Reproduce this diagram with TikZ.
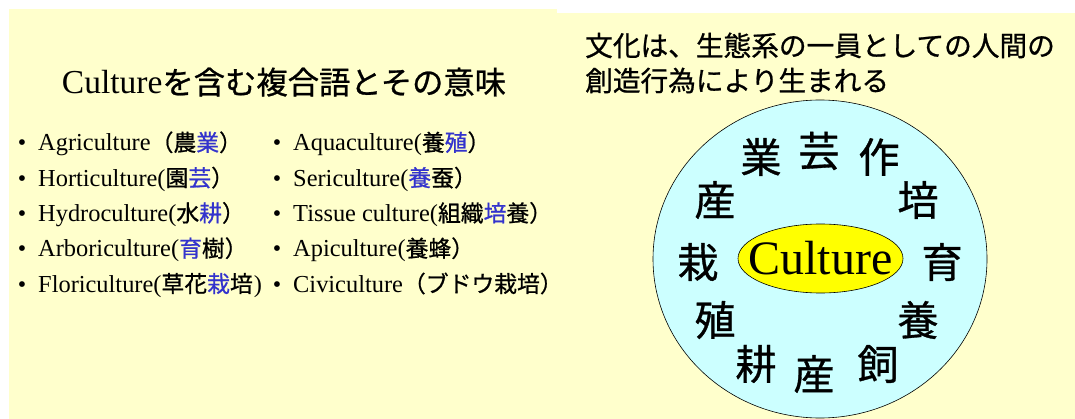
\documentclass[tikz,border=0pt]{standalone}
\usepackage{fontspec}
\setmainfont{Liberation Serif}
\newfontfamily\jp[Scale=0.935,FakeBold=0.8]{Noto Sans CJK JP}
\usetikzlibrary{shapes.geometric}
\definecolor{paneyellow}{HTML}{FFFFCC}
\definecolor{wheelcyan}{HTML}{CCFFFF}
\definecolor{coreyellow}{HTML}{FFFF00}
\definecolor{kblue}{HTML}{3333CC}
\newcommand\J[1]{{\jp #1}}
\newcommand\B[1]{{\jp\color{kblue}#1}}
\begin{document}
\begin{tikzpicture}[x=1pt,y=-1pt,
  item/.style={anchor=base west, inner sep=0pt, font=\fontsize{24.4}{29}\selectfont},
  dot/.style={anchor=base, inner sep=0pt, font=\fontsize{24}{28}\selectfont},
  kanji/.style={inner sep=0pt, font=\jp\fontsize{44}{48}\selectfont},
  rtitle/.style={anchor=base west, inner sep=0pt, font=\jp\fontsize{29.6}{35}\selectfont}]
\useasboundingbox (0,0) rectangle (1075,419);
\fill[white] (0,0) rectangle (1075,419);
\fill[paneyellow] (9,9) rectangle (557,419);
\fill[paneyellow] (557,13) rectangle (1075,419);

% left title
\node[anchor=base, inner sep=0pt, font=\fontsize{33.5}{38}\selectfont] (ltitle) at (284,94) {Culture\J{を含む複合語とその意味}};

% left column
\node[dot] (b1) at (22,151) {\textbullet};
\node[dot] (b2) at (22,186.3) {\textbullet};
\node[dot] (b3) at (22,221.6) {\textbullet};
\node[dot] (b4) at (22,256.9) {\textbullet};
\node[dot] (b5) at (22,292.2) {\textbullet};
\node[item] (i1) at (38,151) {Agriculture\J{（農}\B{業}\J{）}};
\node[item] (i2) at (38,186.3) {Horticulture(\J{園}\B{芸}\J{）}};
\node[item] (i3) at (38,221.6) {Hydroculture(\J{水}\B{耕}\J{）}};
\node[item] (i4) at (38,256.9) {Arboriculture(\B{育}\J{樹）}};
\node[item] (i5) at (38,292.2) {Floriculture(\J{草花}\B{栽}\J{培}\kern1pt)};

% right column
\node[dot] (c1) at (277,151) {\textbullet};
\node[dot] (c2) at (277,186.3) {\textbullet};
\node[dot] (c3) at (277,221.6) {\textbullet};
\node[dot] (c4) at (277,256.9) {\textbullet};
\node[dot] (c5) at (277,292.2) {\textbullet};
\node[item] (j1) at (293,151) {Aquaculture(\J{養}\B{殖}\J{）}};
\node[item] (j2) at (293,186.3) {Sericulture(\B{養}\J{蚕）}};
\node[item] (j3) at (293,221.6) {Tissue culture(\J{組織}\B{培}\J{養）}};
\node[item] (j4) at (293,256.9) {Apiculture(\J{養蜂）}};
\node[item] (j5) at (293,292.2) {Civiculture\J{（ブドウ栽培）}};

% right title
\node[rtitle] (rt1) at (585,56) {文化は、生態系の一員としての人間の};
\node[rtitle] (rt2) at (585,91) {創造行為により生まれる};

% wheel
\node[ellipse, draw=black, line width=0.6pt, fill=wheelcyan, minimum width=334, minimum height=318, inner sep=0pt] (wheel) at (820,259) {};
\node[ellipse, draw=black, line width=0.6pt, fill=coreyellow, minimum width=165, minimum height=69, inner sep=0pt] (core) at (820.5,258.5) {};
\node[inner sep=0pt, font=\fontsize{48}{52}\selectfont] (coretext) at (core.center) {Culture};

\node[kanji] (k1) at (761,157) {業};
\node[kanji] (k2) at (819,151) {芸};
\node[kanji] (k3) at (879,157) {作};
\node[kanji] (k4) at (715,200) {産};
\node[kanji] (k5) at (918,200) {培};
\node[kanji] (k6) at (698,262) {栽};
\node[kanji] (k7) at (942,262) {育};
\node[kanji] (k8) at (715,320) {殖};
\node[kanji] (k9) at (918,320) {養};
\node[kanji] (k10) at (756,364) {耕};
\node[kanji] (k11) at (814,374) {産};
\node[kanji] (k12) at (878,364) {飼};
\end{tikzpicture}
\end{document}
